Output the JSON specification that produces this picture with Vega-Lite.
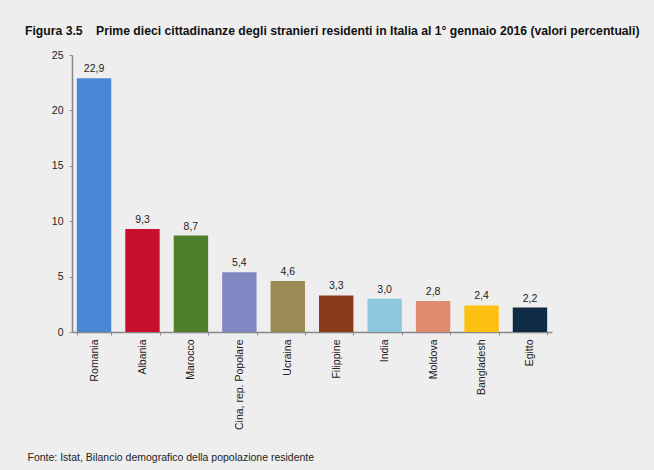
{
  "$schema": "https://vega.github.io/schema/vega-lite/v6.json",
  "autosize": "none",
  "width": 480,
  "height": 277,
  "padding": {"left": 72, "top": 55, "right": 102, "bottom": 138},
  "background": "#eeeeee",
  "title": {
    "text": "Figura 3.5\u00a0\u00a0\u00a0\u00a0Prime dieci cittadinanze degli stranieri residenti in Italia al 1° gennaio 2016 (valori percentuali)",
    "anchor": "start",
    "frame": "group",
    "dx": -47,
    "offset": 13,
    "fontSize": 12.2,
    "fontWeight": "bold",
    "font": "Liberation Sans",
    "color": "#111111"
  },
  "data": {
    "values": [
      {"paese": "Romania", "valore": 22.9},
      {"paese": "Albania", "valore": 9.3},
      {"paese": "Marocco", "valore": 8.7},
      {"paese": "Cina, rep. Popolare", "valore": 5.4},
      {"paese": "Ucraina", "valore": 4.6},
      {"paese": "Filippine", "valore": 3.3},
      {"paese": "India", "valore": 3.0},
      {"paese": "Moldova", "valore": 2.8},
      {"paese": "Bangladesh", "valore": 2.4},
      {"paese": "Egitto", "valore": 2.2}
    ]
  },
  "encoding": {
    "x": {
      "field": "paese",
      "type": "nominal",
      "sort": null,
      "scale": {"paddingInner": 0.29, "paddingOuter": 0.1},
      "axis": {
        "title": "Fonte: Istat, Bilancio demografico della popolazione residente",
        "titleAnchor": "start",
        "titleAlign": "left",
        "titleX": -45,
        "titleY": 128,
        "titleBaseline": "alphabetic",
        "titleFontWeight": "normal",
        "titleFontSize": 10.5,
        "titleColor": "#222222",
        "titleFont": "Liberation Sans",
        "labelAngle": -90,
        "labelAlign": "right",
        "labelBaseline": "middle",
        "labelFontSize": 10.5,
        "labelColor": "#222222",
        "labelFont": "Liberation Sans",
        "labelPadding": 4,
        "tickBand": "extent",
        "tickSize": 3,
        "tickColor": "#888888",
        "domainColor": "#888888",
        "domainWidth": 1.5
      }
    },
    "y": {
      "field": "valore",
      "type": "quantitative",
      "scale": {"domain": [0, 25]},
      "axis": {
        "title": null,
        "values": [0, 5, 10, 15, 20, 25],
        "grid": false,
        "tickSize": 3,
        "tickColor": "#888888",
        "domainColor": "#888888",
        "domainWidth": 1.5,
        "labelFontSize": 10.5,
        "labelColor": "#222222",
        "labelFont": "Liberation Sans",
        "labelPadding": 6
      }
    }
  },
  "layer": [
    {
      "mark": {"type": "bar"},
      "encoding": {
        "color": {
          "field": "paese",
          "type": "nominal",
          "legend": null,
          "scale": {
            "domain": ["Romania", "Albania", "Marocco", "Cina, rep. Popolare", "Ucraina", "Filippine", "India", "Moldova", "Bangladesh", "Egitto"],
            "range": ["#4a86d4", "#c8102e", "#4e7f2a", "#8088c4", "#9a8a55", "#8b3a1c", "#8ec8e0", "#e08a70", "#fdc010", "#0f2a45"]
          }
        }
      }
    },
    {
      "mark": {"type": "text", "dy": -9, "fontSize": 10.5, "font": "Liberation Sans", "color": "#222222"},
      "encoding": {
        "text": {"field": "valore", "type": "quantitative", "format": ".1f"}
      }
    }
  ],
  "config": {
    "view": {"stroke": null},
    "locale": {
      "number": {"decimal": ",", "thousands": ".", "grouping": [3], "currency": ["", " €"]}
    }
  }
}
